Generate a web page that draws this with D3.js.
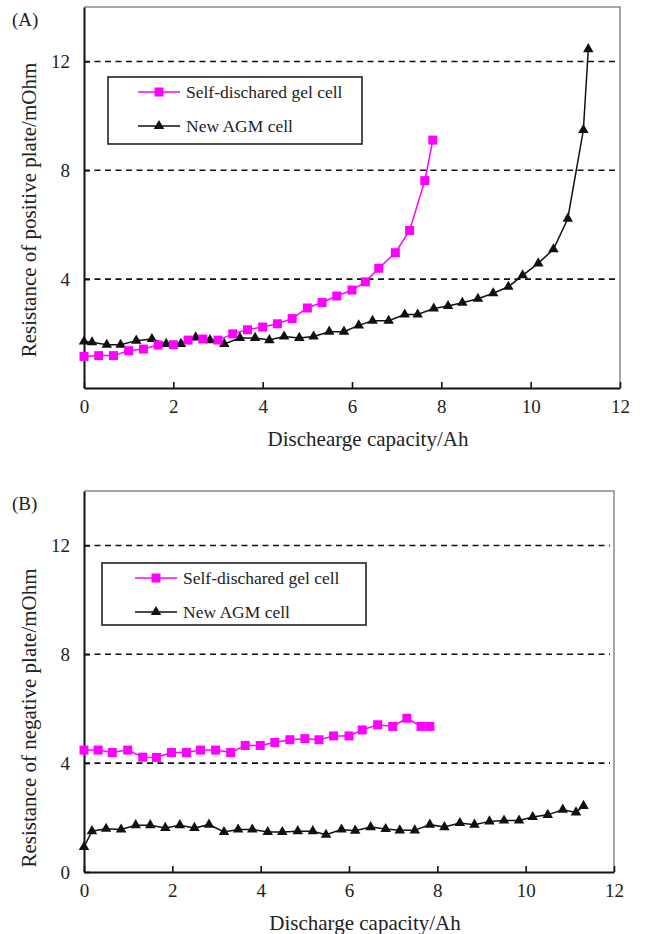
<!DOCTYPE html>
<html>
<head>
<meta charset="utf-8">
<script src="https://cdn.jsdelivr.net/npm/d3@7"></script>
<style>
  body { margin: 0; background: #fff; }
  svg { display: block; font-family: "Liberation Serif", "Times New Roman", serif; }
</style>
</head>
<body>
<svg id="chart" width="645" height="934"></svg>
<script>
// panel A - positive plate
var posGelX = [0, 0.33, 0.66, 1.0, 1.33, 1.66, 2.0, 2.33, 2.66, 3.0, 3.33, 3.66, 4.0, 4.33, 4.66, 5.0, 5.33, 5.66, 6.0, 6.3, 6.6, 6.97, 7.29, 7.63, 7.81];
var posGelY = [1.16, 1.19, 1.19, 1.37, 1.43, 1.58, 1.59, 1.76, 1.80, 1.76, 1.99, 2.14, 2.24, 2.36, 2.55, 2.94, 3.14, 3.38, 3.60, 3.90, 4.40, 4.97, 5.79, 7.62, 9.11];
var posAgmX = [0, 0.18, 0.51, 0.82, 1.17, 1.52, 1.84, 2.17, 2.50, 2.82, 3.14, 3.49, 3.83, 4.15, 4.48, 4.82, 5.14, 5.49, 5.82, 6.15, 6.46, 6.82, 7.18, 7.47, 7.83, 8.15, 8.47, 8.82, 9.16, 9.50, 9.82, 10.17, 10.51, 10.83, 11.18, 11.29];
var posAgmY = [1.71, 1.68, 1.59, 1.59, 1.74, 1.80, 1.62, 1.62, 1.86, 1.76, 1.62, 1.84, 1.84, 1.76, 1.89, 1.84, 1.89, 2.07, 2.07, 2.30, 2.47, 2.47, 2.70, 2.70, 2.92, 3.01, 3.13, 3.28, 3.48, 3.72, 4.14, 4.58, 5.10, 6.22, 9.48, 12.45];

// panel B - negative plate
var negGelX = [0, 0.32, 0.64, 0.99, 1.33, 1.64, 1.98, 2.32, 2.64, 2.98, 3.32, 3.65, 3.99, 4.32, 4.66, 5.0, 5.32, 5.65, 6.0, 6.30, 6.65, 6.99, 7.31, 7.63, 7.83];
var negGelY = [4.48, 4.48, 4.39, 4.48, 4.22, 4.21, 4.39, 4.39, 4.48, 4.48, 4.39, 4.65, 4.65, 4.76, 4.86, 4.90, 4.86, 5.00, 5.00, 5.22, 5.41, 5.35, 5.65, 5.35, 5.35];
var negAgmX = [0, 0.18, 0.50, 0.84, 1.17, 1.50, 1.84, 2.17, 2.50, 2.83, 3.17, 3.49, 3.81, 4.16, 4.49, 4.84, 5.18, 5.48, 5.83, 6.14, 6.49, 6.83, 7.15, 7.49, 7.83, 8.16, 8.51, 8.84, 9.18, 9.51, 9.85, 10.16, 10.50, 10.84, 11.14, 11.31];
var negAgmY = [0.92, 1.50, 1.59, 1.56, 1.72, 1.72, 1.62, 1.72, 1.62, 1.74, 1.47, 1.56, 1.56, 1.47, 1.47, 1.50, 1.50, 1.37, 1.56, 1.52, 1.65, 1.58, 1.53, 1.53, 1.74, 1.65, 1.80, 1.74, 1.86, 1.89, 1.89, 2.02, 2.10, 2.29, 2.19, 2.43];

var xTicks = [0, 2, 4, 6, 8, 10, 12];
var gridValues = [4, 8, 12];
var yTicksA = [4, 8, 12];
var yTicksB = [0, 4, 8, 12];
var seriesNames = ["Self-dischared gel cell", "New AGM cell"];

var pink = "#ff00ff";
var svg = d3.select("#chart");

var zip = function(xs, ys) {
  return xs.map(function(x, i) { return {x: x, y: ys[i]}; });
};

var drawPanel = function(cfg) {
  var g = svg.append("g");
  var scX = d3.scaleLinear().domain([0, 12]).range([cfg.left, cfg.right]);
  var scY = d3.scaleLinear().domain([0, 14]).range([cfg.bottom, cfg.top]);

  // frame (top / right in grey)
  g.append("path")
    .attr("d", "M" + cfg.left + "," + cfg.top + "H" + cfg.right + "V" + cfg.bottom)
    .attr("fill", "none").attr("stroke", "#8a8a8a").attr("stroke-width", 1.5);

  // dashed gridlines
  g.selectAll(".grid").data(gridValues).enter()
    .append("line")
    .attr("x1", cfg.left).attr("x2", cfg.right - 4)
    .attr("y1", d => scY(d)).attr("y2", d => scY(d))
    .attr("stroke", "#111").attr("stroke-width", 1.6)
    .attr("stroke-dasharray", "6,4.5");

  // axes, ticks pointing inwards
  var axX = d3.axisBottom(scX).tickValues(xTicks).tickSizeInner(-6).tickSizeOuter(0).tickPadding(12);
  var gx = g.append("g").attr("transform", "translate(0," + cfg.bottom + ")").call(axX);
  var axY = d3.axisLeft(scY).tickValues(cfg.yTicks).tickSizeInner(-6).tickSizeOuter(0).tickPadding(14);
  var gy = g.append("g").attr("transform", "translate(" + cfg.left + ",0)").call(axY);
  [gx, gy].forEach(function(a) {
    a.select(".domain").attr("stroke", "#111").attr("stroke-width", 2);
    a.selectAll(".tick line").attr("stroke", "#111").attr("stroke-width", 1.6);
    a.selectAll(".tick text").attr("font-size", 19).attr("fill", "#222")
      .attr("font-family", "Liberation Serif, serif");
  });

  // series
  var line = d3.line().x(d => scX(d.x)).y(d => scY(d.y));
  var gel = zip(cfg.gelX, cfg.gelY);
  var agm = zip(cfg.agmX, cfg.agmY);

  g.append("path").attr("d", line(agm)).attr("fill", "none")
    .attr("stroke", "#111").attr("stroke-width", 1.5);
  g.append("path").attr("d", line(gel)).attr("fill", "none")
    .attr("stroke", pink).attr("stroke-width", 1.5);

  var tri = d3.symbol().type(d3.symbolTriangle).size(48);
  g.selectAll(".agm").data(agm).enter()
    .append("path").attr("d", tri)
    .attr("transform", d => "translate(" + scX(d.x) + "," + scY(d.y) + ")")
    .attr("fill", "#111");

  g.selectAll(".gel").data(gel).enter()
    .append("rect")
    .attr("x", d => scX(d.x) - 4.5).attr("y", d => scY(d.y) - 4.5)
    .attr("width", 9).attr("height", 9)
    .attr("fill", pink);

  // legend
  var lg = cfg.legend;
  g.append("rect")
    .attr("x", lg.x).attr("y", lg.y).attr("width", lg.w).attr("height", lg.h)
    .attr("fill", "#fff").attr("stroke", "#222").attr("stroke-width", 1.6);
  seriesNames.forEach(function(name, i) {
    var ly = lg.y + (i === 0 ? 15 : 49);
    var col = i === 0 ? pink : "#111";
    g.append("line")
      .attr("x1", lg.x + lg.sx).attr("x2", lg.x + lg.sx + 42)
      .attr("y1", ly).attr("y2", ly)
      .attr("stroke", col).attr("stroke-width", 1.5);
    if (i === 0) {
      g.append("rect").attr("x", lg.x + lg.sx + 16.5).attr("y", ly - 4.5)
        .attr("width", 9).attr("height", 9).attr("fill", pink);
    } else {
      g.append("path").attr("d", tri)
        .attr("transform", "translate(" + (lg.x + lg.sx + 21) + "," + ly + ")")
        .attr("fill", "#111");
    }
    g.append("text")
      .attr("x", lg.x + lg.sx + 48).attr("y", ly)
      .attr("dy", "0.35em")
      .attr("font-size", 17.5).attr("fill", "#222")
      .text(name);
  });

  // titles
  g.append("text")
    .attr("x", (cfg.left + cfg.right) / 2 + 16).attr("y", cfg.bottom + 58)
    .attr("text-anchor", "middle").attr("font-size", 21).attr("fill", "#222")
    .text(cfg.xTitle);
  g.append("text")
    .attr("transform", "translate(36," + cfg.yTitleMid + ") rotate(-90)")
    .attr("text-anchor", "middle").attr("font-size", 21).attr("fill", "#222")
    .text(cfg.yTitle);
  g.append("text")
    .attr("x", 12).attr("y", cfg.top + 19)
    .attr("font-size", 19).attr("fill", "#222")
    .text(cfg.tag);
};

drawPanel({
  left: 84, right: 620, top: 7, bottom: 388,
  yTicks: yTicksA,
  gelX: posGelX, gelY: posGelY, agmX: posAgmX, agmY: posAgmY,
  legend: {x: 108, y: 77, w: 254, h: 67, sx: 30},
  xTitle: "Dischearge capacity/Ah",
  yTitle: "Resistance of positive plate/mOhm",
  yTitleMid: 210,
  tag: "(A)"
});

drawPanel({
  left: 84, right: 614, top: 491, bottom: 872,
  yTicks: yTicksB,
  gelX: negGelX, gelY: negGelY, agmX: negAgmX, agmY: negAgmY,
  legend: {x: 102, y: 563, w: 264, h: 62, sx: 33},
  xTitle: "Discharge capacity/Ah",
  yTitle: "Resistance of negative plate/mOhm",
  yTitleMid: 718,
  tag: "(B)"
});
</script>
</body>
</html>
